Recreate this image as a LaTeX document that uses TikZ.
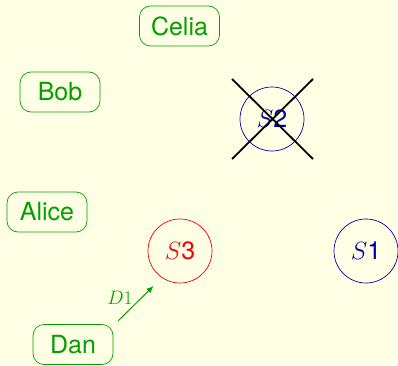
\RequirePackage{fix-cm}
\documentclass[tikz,border=0pt]{standalone}
\usepackage{fontspec}
\setsansfont{TeX Gyre Heros}
\usetikzlibrary{arrows.meta}
\definecolor{bg}{RGB}{255,255,229}
\definecolor{gr}{RGB}{0,160,0}
\definecolor{bl}{RGB}{0,0,170}
\definecolor{rd}{RGB}{240,0,0}
\tikzset{
  person/.style={draw=gr, text=gr, rounded corners=11pt, minimum width=80pt, minimum height=40pt, inner sep=0pt, line width=0.7pt, font=\sffamily\fontsize{25}{30}\selectfont},
  server/.style={circle, draw=#1, text=#1, minimum size=64pt, inner sep=0pt, line width=0.7pt, font=\sffamily\fontsize{25}{30}\selectfont},
  crossline/.style={line width=1.8pt, black},
  msg/.style={draw=gr, line width=1pt, -{Latex[length=7pt,width=6pt]}},
}
\begin{document}
\begin{tikzpicture}[x=1pt,y=1pt]
\useasboundingbox[fill=bg] (0,0) rectangle (398,365);
\node[person] (celia) at (179.5,339) {Celia};
\node[person] (bob) at (60,273) {Bob};
\node[person] (alice) at (47,153) {Alice};
\node[person] (dan) at (73,20.5) {Dan};
\node[server=bl] (s2) at (272,246) {$S$2};
\node[server=rd] (s3) at (180,114) {$S$3};
\node[server=bl] (s1) at (366,114) {$S$1};
\coordinate (x1) at (232,286);
\coordinate (x2) at (313,206);
\coordinate (x3) at (313,286);
\coordinate (x4) at (232,206);
\draw[crossline] (x1) -- (x2);
\draw[crossline] (x3) -- (x4);
\coordinate (a1) at (118,44);
\coordinate (a2) at (153.5,79);
\draw[msg] (a1) -- (a2);
\node[text=gr, font=\fontsize{19.5}{22}\selectfont, inner sep=0pt] (d1) at (120,67) {$D1$};
\end{tikzpicture}
\end{document}
